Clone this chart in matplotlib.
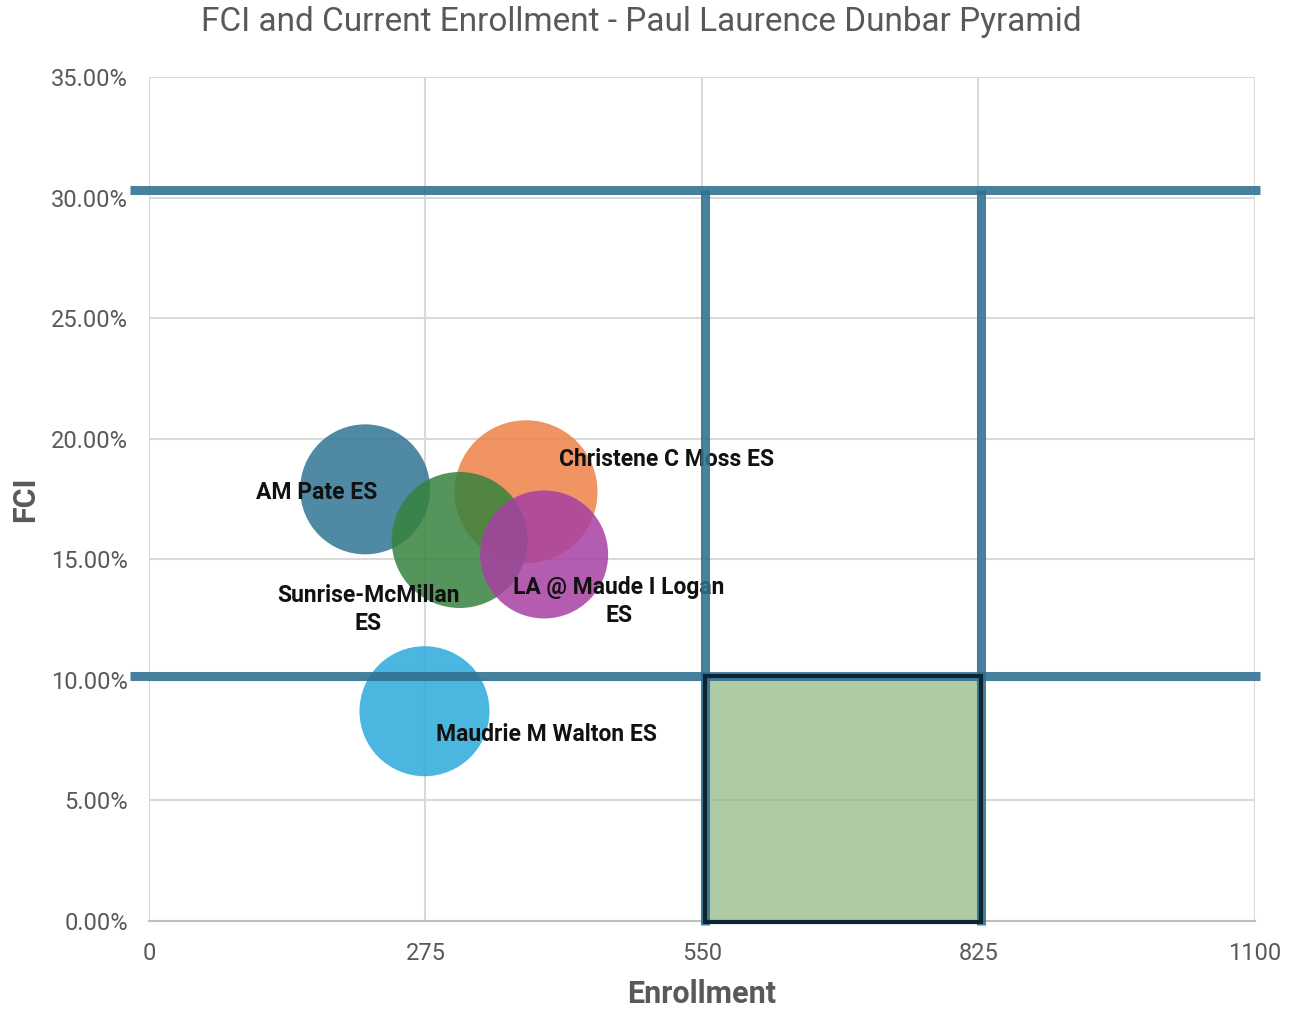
import matplotlib.pyplot as plt
from matplotlib.patches import Rectangle
from matplotlib.ticker import PercentFormatter

plt.rcParams['font.family'] = ['Roboto', 'DejaVu Sans']

# school data
schools = ['AM Pate ES', 'Christene C Moss ES', 'Sunrise-McMillan\nES',
           'LA @ Maude I Logan\nES', 'Maudrie M Walton ES']
enrollment = [215, 375, 309, 393, 274]
fci = [17.9, 17.8, 15.8, 15.2, 8.7]
bubble_size = [130, 143, 136, 128, 130]
colors = ['#307493', '#ed8146', '#37823d', '#a740a3', '#2ba9db']
# label offsets (points) from bubble centre
label_off = [(-35, -2), (101, 23), (-66, -50), (54, -34), (88, -17)]

# target zone lines
fci_lines = [30.3, 10.15]
enroll_lines = [553, 828]
x_ticks = [0, 275, 550, 825, 1100]

fig = plt.figure(figsize=(12.99, 10.09), dpi=100)
ax = fig.add_axes([0.1147, 0.0872, 0.8514, 0.8365])

ax.set_xlim(0, 1100)
ax.set_ylim(0, 35)
ax.set_xticks(x_ticks)
ax.set_yticks(range(0, 36, 5))
ax.yaxis.set_major_formatter(PercentFormatter(decimals=2))
ax.grid(True, color='#d9d9d9', linewidth=1.5)
ax.set_axisbelow(True)
for s in ['top', 'right', 'left']:
    ax.spines[s].set_visible(False)
ax.spines['bottom'].set_color('#bfbfbf')
ax.spines['bottom'].set_linewidth(1.5)
ax.tick_params(length=0, labelsize=17, labelcolor='#595959')
ax.tick_params(axis='y', pad=15)
ax.tick_params(axis='x', pad=15)

# bubbles
for i in range(len(schools)):
    d = bubble_size[i] * 0.72
    ax.scatter(enrollment[i], fci[i], s=d ** 2, color=colors[i], alpha=0.85,
               edgecolors='none', zorder=3)
for i in range(len(schools)):
    ax.annotate(schools[i], (enrollment[i], fci[i]), xytext=label_off[i],
                textcoords='offset points', ha='center', va='center',
                fontsize=16.5, fontweight='bold', color='#111111',
                linespacing=1.3, zorder=4)

# green target box
ax.add_patch(Rectangle((enroll_lines[0], 0), enroll_lines[1] - enroll_lines[0],
                       fci_lines[1], facecolor='#8eb581', alpha=0.7,
                       edgecolor='none', zorder=5, clip_on=False))
ax.add_patch(Rectangle((enroll_lines[0], -0.05), enroll_lines[1] - enroll_lines[0],
                       fci_lines[1] + 0.05, facecolor='none', edgecolor='#0b2533',
                       linewidth=3, zorder=7, clip_on=False))

line_c = '#2e7091'
for y in fci_lines:
    ax.plot([-19, 1105], [y, y], color=line_c, alpha=0.88, linewidth=6.5,
            solid_capstyle='butt', zorder=6, clip_on=False)
for x in enroll_lines:
    ax.plot([x, x], [-0.15, fci_lines[0]], color=line_c, alpha=0.88, linewidth=6.5,
            solid_capstyle='butt', zorder=6, clip_on=False)

fig.text(0.4935, 0.978, 'FCI and Current Enrollment - Paul Laurence Dunbar Pyramid',
         fontsize=24, color='#595959', ha='center', va='center')
ax.set_xlabel('Enrollment', fontsize=22, fontweight='bold', color='#595959',
              labelpad=10)
ax.set_ylabel('FCI', fontsize=22, fontweight='bold', color='#595959',
              labelpad=8)

fig.savefig('out.png', dpi=100)
